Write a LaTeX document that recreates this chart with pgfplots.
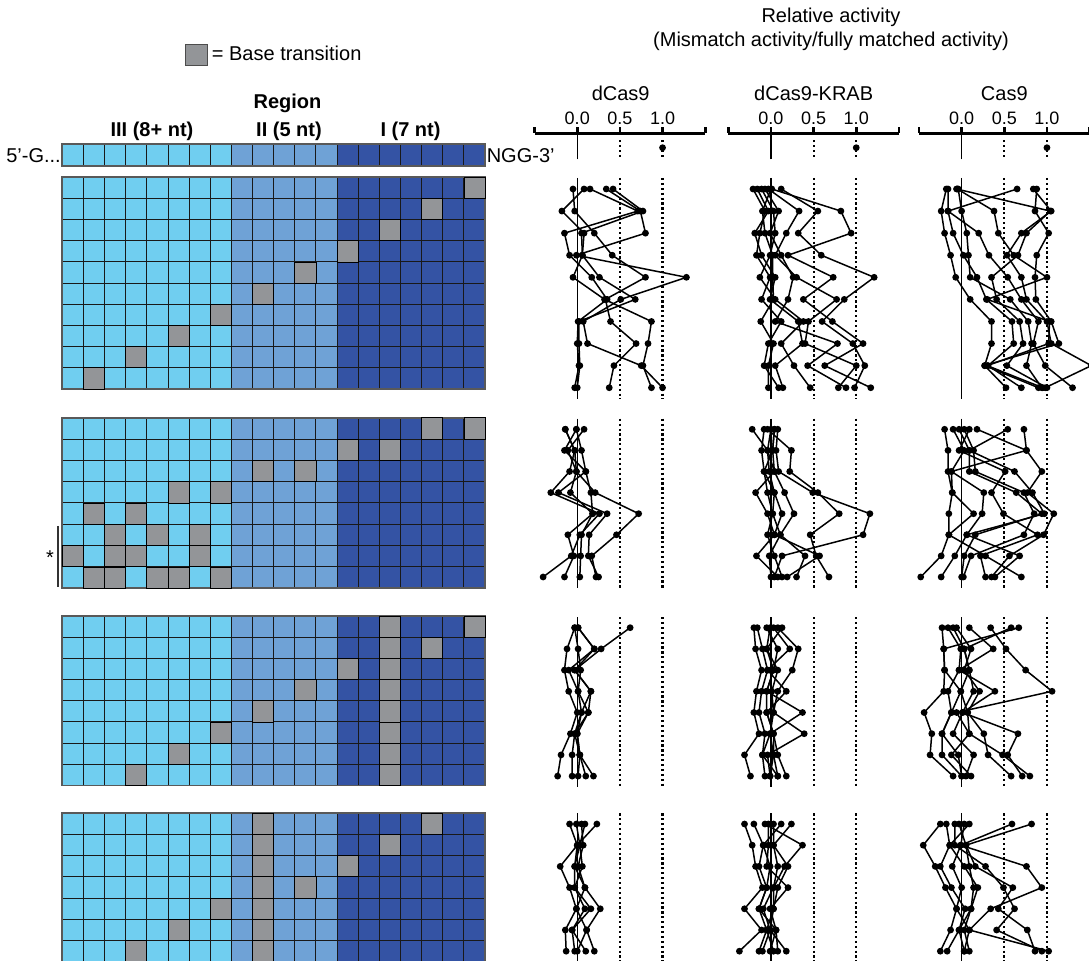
\documentclass[border=0pt]{standalone}
\usepackage{fontspec}
\setmainfont{Liberation Sans}
\usepackage{pgfplots}
\usepackage{pgfplotstable}
\pgfplotsset{compat=1.18}
\definecolor{cIII}{RGB}{112,206,240}
\definecolor{cII}{RGB}{111,162,214}
\definecolor{cI}{RGB}{52,83,164}
\definecolor{cgray}{RGB}{147,149,152}
\newcommand{\tf}{\fontsize{10}{12}\selectfont}

\pgfplotsset{
  ser/.style={black, line width=0.75pt, mark=*, mark size=1.3pt, mark options={solid, fill=black}},
  zline/.style={black, line width=0.65pt, forget plot},
  dline/.style={black, line width=1.1pt, dash pattern=on 1.1pt off 1.35pt, forget plot},
  grp/.style={hide axis, clip=false, anchor=north west, xmin=-0.5, xmax=1.5, x=42.65pt, ymin=0.5, y dir=reverse},
  hdr/.style={clip=false, anchor=north west, xmin=-0.5, xmax=1.5, x=42.65pt, ymin=0, ymax=1, y=13.35pt,
    axis x line=top, axis y line=none, axis line style={-}, x axis line style={-, line width=1.3pt, black},
    xtick={-0.5,0,0.5,1,1.5}, xticklabels={,0.0,0.5,1.0,}, tick align=outside, major tick length=3pt,
    every tick/.style={black, line width=1.3pt}, xticklabel style={font=\fontsize{9}{10}\selectfont, inner sep=1pt}},
  gridax/.style={anchor=north west, x=10.57pt, xmin=0.5, xmax=20.5, ymin=0.5, y dir=reverse,
    xtick={0.5,1.5,...,20.5}, xticklabels={}, yticklabels={}, major tick length=0pt,
    grid=major, major grid style={black!90, line width=0.5pt}, axis on top,
    axis line style={black!65, line width=0.9pt}},
  gcell/.style={only marks, mark=square*, mark size=5.3pt, mark options={fill=cgray, draw=none}, forget plot},
}
\newcommand{\regions}[1]{%
  \addplot[fill=cIII, draw=none, forget plot] coordinates {(0.5,0.5) (8.5,0.5) (8.5,#1) (0.5,#1)} --cycle;
  \addplot[fill=cII, draw=none, forget plot] coordinates {(8.5,0.5) (13.5,0.5) (13.5,#1) (8.5,#1)} --cycle;
  \addplot[fill=cI, draw=none, forget plot] coordinates {(13.5,0.5) (20.5,0.5) (20.5,#1) (13.5,#1)} --cycle;}
\newcommand{\reflines}[1]{%
  \addplot[zline] coordinates {(0,0.5) (0,#1)};
  \addplot[dline] coordinates {(0.5,0.5) (0.5,#1)};
  \addplot[dline] coordinates {(1,0.5) (1,#1)};}
\newcommand{\plotser}[2]{\pgfplotsinvokeforeach{1,...,#2}{\addplot[ser] table[x=s##1, y=r]{#1};}}

% ---------- relative activity data (rows = mismatch guides, s = series) ----------
\pgfplotstableread{
r s1 s2 s3 s4 s5
1 0.15 0.34 0.42 -0.05 0.08
2 0.71 0.74 0.77 -0.03 -0.18
3 -0.15 0.80 0.05 0.20 0.08
4 -0.09 -0.01 0.06 0.41 0.06
5 0.17 1.28 -0.05 0.80 0.26
6 0.35 0.51 0.32 0.33 0.68
7 0.01 0.07 0.87 0.39 0.02
8 0.00 0.12 0.83 0.69 0.02
9 0.02 0.75 0.77 0.43 0.03
10 -0.03 1.00 0.87 0.375 0.00
}\tAd
\pgfplotstableread{
r s1 s2 s3 s4 s5 s6 s7 s8
1 0.12 0.01 -0.03 -0.07 -0.11 -0.16 -0.21 0.00
2 0.55 0.82 0.33 0.09 0.03 -0.03 -0.07 -0.10
3 0.32 0.94 0.18 -0.01 0.05 -0.19 -0.13 -0.07
4 0.59 0.20 0.05 0.12 -0.01 -0.11 -0.17 0.02
5 1.21 0.73 0.30 0.26 -0.13 0.05 -0.01 0.02
6 0.86 0.38 0.77 0.20 0.05 -0.01 -0.11 0.03
7 0.60 0.72 0.44 0.05 0.38 0.32 0.12 -0.12
8 0.96 1.08 0.40 0.78 0.12 0.37 -0.03 0.03
9 1.10 0.63 1.00 0.43 0.27 0.05 -0.08 -0.03
10 0.98 1.17 0.79 0.88 0.46 0.14 0.09 -0.03
}\tAk
\pgfplotstableread{
r s1 s2 s3 s4 s5 s6 s7 s8
1 -0.18 -0.16 -0.06 -0.04 0.65 0.84 0.88 -0.05
2 -0.24 -0.16 1.04 0.00 -0.16 1.05 0.86 0.38
3 -0.20 -0.10 0.76 0.06 0.20 0.70 1.02 0.43
4 -0.13 0.02 0.66 0.08 0.32 0.53 0.88 0.61
5 -0.07 0.18 0.35 0.10 0.54 0.70 0.86 1.00
6 0.10 0.29 0.41 0.57 0.70 0.76 0.87 0.30
7 0.35 0.59 0.68 0.78 0.90 1.00 1.05 1.03
8 0.35 0.61 0.72 0.82 0.84 1.05 1.14 1.02
9 0.27 0.31 0.53 0.76 0.98 1.52 0.27 0.30
10 0.52 0.70 1.00 0.94 1.30 0.98 0.90 0.95
}\tAc
\pgfplotstableread{
r s1 s2 s3 s4 s5
1 -0.14 -0.01 0.08 -0.01 -0.14
2 -0.03 0.05 -0.11 -0.15 -0.03
3 -0.09 0.10 -0.01 0.10 -0.01
4 -0.31 -0.22 0.21 0.16 -0.08
5 0.26 0.35 0.72 0.18 0.18
6 0.03 0.14 0.46 0.05 -0.11
7 -0.07 0.13 0.17 0.04 -0.04
8 -0.40 0.25 0.22 0.03 -0.15
}\tBd
\pgfplotstableread{
r s1 s2 s3 s4 s5 s6 s7
1 -0.04 0.08 0.04 0.00 -0.08 -0.22 0.04
2 0.24 0.06 0.02 -0.04 -0.11 -0.04 0.02
3 0.22 0.09 0.04 -0.02 -0.08 0.04 -0.08
4 0.55 0.49 0.16 0.04 -0.04 -0.18 0.04
5 0.80 1.16 0.27 0.13 0.02 -0.04 0.02
6 0.46 1.08 0.11 0.04 -0.04 0.04 0.11
7 0.53 0.13 0.40 0.57 0.04 -0.17 -0.02
8 0.68 0.04 0.30 0.19 0.13 0.08 0.00
}\tBk
\pgfplotstableread{
r s1 s2 s3 s4 s5 s6 s7 s8
1 -0.20 -0.10 -0.03 0.03 0.09 0.18 0.54 0.73
2 -0.16 0.03 0.09 0.14 -0.03 0.76 0.09 0.76
3 -0.16 -0.12 0.09 0.16 0.51 0.94 0.62 -0.12
4 -0.11 0.26 0.64 0.73 0.35 0.77 0.83 -0.11
5 -0.15 0.24 0.94 0.85 0.49 1.08 0.97 0.14
6 -0.15 0.06 0.16 0.73 0.89 0.96 0.06 -0.15
7 -0.24 -0.08 0.03 0.11 0.22 0.56 0.68 0.28
8 -0.48 -0.24 0.00 0.02 0.28 0.35 0.39 0.70
}\tBc
\pgfplotstableread{
r s1 s2 s3 s4 s5
1 -0.03 0.01 0.62 -0.03 0.01
2 -0.12 0.20 0.28 0.01 0.20
3 -0.15 -0.10 -0.03 0.04 -0.03
4 -0.10 0.01 0.16 0.01 0.16
5 0.00 0.05 0.13 0.13 0.05
6 -0.08 -0.03 0.00 -0.03 0.00
7 -0.19 -0.06 0.03 0.03 0.03
8 -0.23 -0.06 0.01 0.10 0.19
}\tCd
\pgfplotstableread{
r s1 s2 s3 s4 s5 s6 s7
1 -0.20 -0.16 -0.05 -0.01 0.03 0.08 0.13
2 -0.18 -0.10 0.08 -0.05 0.22 0.32 -0.05
3 -0.11 -0.04 0.03 0.08 -0.04 0.25 0.03
4 -0.17 -0.11 -0.05 0.01 0.18 0.08 -0.05
5 -0.20 -0.14 0.37 0.03 -0.05 0.03 -0.05
6 -0.14 -0.07 -0.01 0.39 0.03 -0.01 0.03
7 -0.31 -0.10 0.03 -0.04 0.08 -0.10 0.03
8 -0.24 -0.07 0.08 -0.01 0.18 0.08 -0.01
}\tCk
\pgfplotstableread{
r s1 s2 s3 s4 s5 s6 s7 s8
1 -0.23 -0.16 0.34 -0.10 -0.06 0.09 0.58 0.67
2 -0.21 -0.01 0.52 0.03 0.11 0.37 0.03 -0.21
3 -0.20 -0.03 0.75 0.09 0.03 -0.03 0.09 -0.20
4 -0.21 -0.16 1.06 0.14 0.21 0.39 -0.01 -0.01
5 -0.44 -0.12 -0.06 0.01 0.07 0.01 0.07 -0.12
6 -0.35 -0.23 0.09 0.66 0.26 -0.10 0.09 -0.23
7 -0.37 -0.23 0.48 0.54 0.31 0.14 -0.12 -0.04
8 -0.10 0.00 0.80 0.71 0.58 0.05 0.11 0.00
}\tCc
\pgfplotstableread{
r s1 s2 s3 s4 s5
1 -0.09 -0.01 0.05 0.09 0.23
2 0.00 0.03 0.07 0.03 0.00
3 -0.20 -0.03 0.01 0.06 -0.03
4 -0.09 -0.03 0.09 -0.03 0.09
5 -0.01 0.09 0.27 0.16 -0.01
6 -0.14 -0.06 0.11 -0.06 0.11
7 -0.13 -0.03 0.20 0.10 0.00
}\tDd
\pgfplotstableread{
r s1 s2 s3 s4 s5 s6 s7
1 -0.31 -0.20 -0.07 -0.03 0.03 0.12 0.24
2 -0.22 -0.09 0.37 -0.03 0.03 -0.09 0.03
3 -0.18 -0.14 0.16 -0.05 0.20 -0.01 0.08
4 -0.10 -0.05 0.03 0.20 0.08 -0.05 0.03
5 -0.31 -0.14 -0.09 -0.01 0.03 -0.14 0.03
6 -0.11 -0.05 -0.01 0.06 -0.05 0.06 -0.01
7 -0.37 -0.14 -0.10 -0.01 0.03 0.08 0.18
}\tDk
\pgfplotstableread{
r s1 s2 s3 s4 s5 s6 s7 s8
1 -0.25 -0.18 0.59 0.82 -0.08 -0.03 0.03 0.09
2 -0.45 -0.14 -0.01 0.05 -0.08 0.05 -0.01 -0.14
3 -0.31 -0.25 0.76 0.16 0.28 0.09 -0.11 0.03
4 -0.19 -0.12 0.94 0.60 0.49 0.14 0.00 0.19
5 -0.06 0.04 0.34 0.43 0.62 0.11 -0.06 0.11
6 -0.13 -0.03 0.09 0.77 0.41 0.03 0.09 -0.03
7 -0.25 -0.17 1.02 0.86 0.94 0.09 0.03 0.03
}\tDc

\begin{document}
\begin{tikzpicture}
\useasboundingbox (0,0) rectangle (544.5pt,-480.5pt);
\clip (0,0) rectangle (544.5pt,-480.5pt);

% ---------------- sequence grids ----------------
\begin{axis}[gridax, at={(31.15pt,-72.15pt)}, y=10.7pt, ymax=1.5, ytick={0.5,1.5},
  legend style={draw=none, fill=none, at={(0.29,5.17)}, anchor=west, inner sep=0pt, font=\tf},
  legend image code/.code={\draw[fill=cgray, draw=black!70, line width=0.5pt] (0pt,-5.35pt) rectangle (10.8pt,5.35pt);}]
\addlegendimage{black}
\addlegendentry{= Base transition}
\regions{1.5}
\end{axis}

\begin{axis}[gridax, at={(31.15pt,-88.65pt)}, y=10.585pt, ymax=10.5, ytick={0.5,1.5,...,10.5}]
\regions{10.5}
\addplot[gcell] coordinates {(20,1) (18,2) (16,3) (14,4) (12,5) (10,6) (8,7) (6,8) (4,9) (2,10)};
\end{axis}

\begin{axis}[gridax, at={(31.15pt,-208.85pt)}, y=10.66pt, ymax=8.5, ytick={0.5,1.5,...,8.5}]
\regions{8.5}
\addplot[gcell] coordinates {(18,1) (20,1) (14,2) (16,2) (10,3) (12,3) (6,4) (8,4) (2,5) (4,5)
  (3,6) (5,6) (7,6) (1,7) (3,7) (4,7) (7,7) (2,8) (3,8) (5,8) (6,8) (8,8)};
\end{axis}

\begin{axis}[gridax, at={(31.15pt,-308pt)}, y=10.6pt, ymax=8.5, ytick={0.5,1.5,...,8.5}]
\regions{8.5}
\addplot[gcell] coordinates {(16,1) (16,2) (16,3) (16,4) (16,5) (16,6) (16,7) (16,8)
  (20,1) (18,2) (14,3) (12,4) (10,5) (8,6) (6,7) (4,8)};
\end{axis}

\begin{axis}[gridax, at={(31.15pt,-406.65pt)}, y=10.6pt, ymax=7.5, ytick={0.5,1.5,...,7.5}]
\regions{7.5}
\addplot[gcell] coordinates {(10,1) (10,2) (10,3) (10,4) (10,5) (10,6) (10,7)
  (18,1) (16,2) (14,3) (12,4) (8,5) (6,6) (4,7)};
\end{axis}

% ---------------- activity panels: header axes ----------------
\foreach \xx in {267.3pt,364.15pt,459.5pt}{
\begin{axis}[hdr, at={(\xx,-66.65pt)}]
\addplot[zline] coordinates {(0,0.02) (0,1)};
\addplot[dline] coordinates {(0.5,0.12) (0.5,0.85)};
\addplot[dline] coordinates {(1,0.12) (1,0.85)};
\addplot[ser, only marks] coordinates {(1,0.46)};
\end{axis}
}

% ---------------- group 1 ----------------
\begin{axis}[grp, at={(267.3pt,-88.98pt)}, ymax=10.5, y=11.04pt]
\reflines{10.5}\plotser{\tAd}{5}
\end{axis}
\begin{axis}[grp, at={(364.15pt,-88.98pt)}, ymax=10.5, y=11.04pt]
\reflines{10.5}\plotser{\tAk}{8}
\end{axis}
\begin{axis}[grp, at={(459.5pt,-88.98pt)}, ymax=10.5, y=11.04pt]
\reflines{10.5}\plotser{\tAc}{8}
\end{axis}
% ---------------- group 2 ----------------
\begin{axis}[grp, at={(267.3pt,-209.375pt)}, ymax=8.5, y=10.55pt]
\reflines{8.5}\plotser{\tBd}{5}
\end{axis}
\begin{axis}[grp, at={(364.15pt,-209.375pt)}, ymax=8.5, y=10.55pt]
\reflines{8.5}\plotser{\tBk}{7}
\end{axis}
\begin{axis}[grp, at={(459.5pt,-209.375pt)}, ymax=8.5, y=10.55pt]
\reflines{8.5}\plotser{\tBc}{8}
\end{axis}
% ---------------- group 3 ----------------
\begin{axis}[grp, at={(267.3pt,-308.55pt)}, ymax=8.5, y=10.6pt]
\reflines{8.5}\plotser{\tCd}{5}
\end{axis}
\begin{axis}[grp, at={(364.15pt,-308.55pt)}, ymax=8.5, y=10.6pt]
\reflines{8.5}\plotser{\tCk}{7}
\end{axis}
\begin{axis}[grp, at={(459.5pt,-308.55pt)}, ymax=8.5, y=10.6pt]
\reflines{8.5}\plotser{\tCc}{8}
\end{axis}
% ---------------- group 4 ----------------
\begin{axis}[grp, at={(267.3pt,-406.7pt)}, ymax=8.5, y=10.6pt]
\reflines{8.5}\plotser{\tDd}{5}
\end{axis}
\begin{axis}[grp, at={(364.15pt,-406.7pt)}, ymax=8.5, y=10.6pt]
\reflines{8.5}\plotser{\tDk}{7}
\end{axis}
\begin{axis}[grp, at={(459.5pt,-406.7pt)}, ymax=8.5, y=10.6pt]
\reflines{8.5}\plotser{\tDc}{8}
\end{axis}

% ---------------- text ----------------
\node[font=\tf, inner sep=0pt] at (415.5pt,-8.5pt) {Relative activity};
\node[font=\tf, inner sep=0pt] at (415.5pt,-20.85pt) {(Mismatch activity/fully matched activity)};
\node[font=\tf\bfseries, inner sep=0pt] at (143.75pt,-51.5pt) {Region};
\node[font=\tf\bfseries, inner sep=0pt] at (76pt,-65.85pt) {III (8+ nt)};
\node[font=\tf\bfseries, inner sep=0pt] at (144.5pt,-65.85pt) {II (5 nt)};
\node[font=\tf\bfseries, inner sep=0pt] at (205.25pt,-65.85pt) {I (7 nt)};
\node[font=\tf, inner sep=0pt, anchor=east] at (30.6pt,-77.6pt) {5’-G...};
\node[font=\tf, inner sep=0pt, anchor=west] at (243.2pt,-77.6pt) {NGG-3’};
\node[font=\tf, inner sep=0pt] at (310.35pt,-46.65pt) {dCas9};
\node[font=\tf, inner sep=0pt] at (406.85pt,-46.65pt) {dCas9-KRAB};
\node[font=\tf, inner sep=0pt] at (502.15pt,-46.65pt) {Cas9};
\node[font=\tf, inner sep=0pt] at (25pt,-279pt) {*};
\draw[black!80, line width=0.9pt] (28.85pt,-263pt) -- (28.85pt,-293.35pt);
\end{tikzpicture}
\end{document}
